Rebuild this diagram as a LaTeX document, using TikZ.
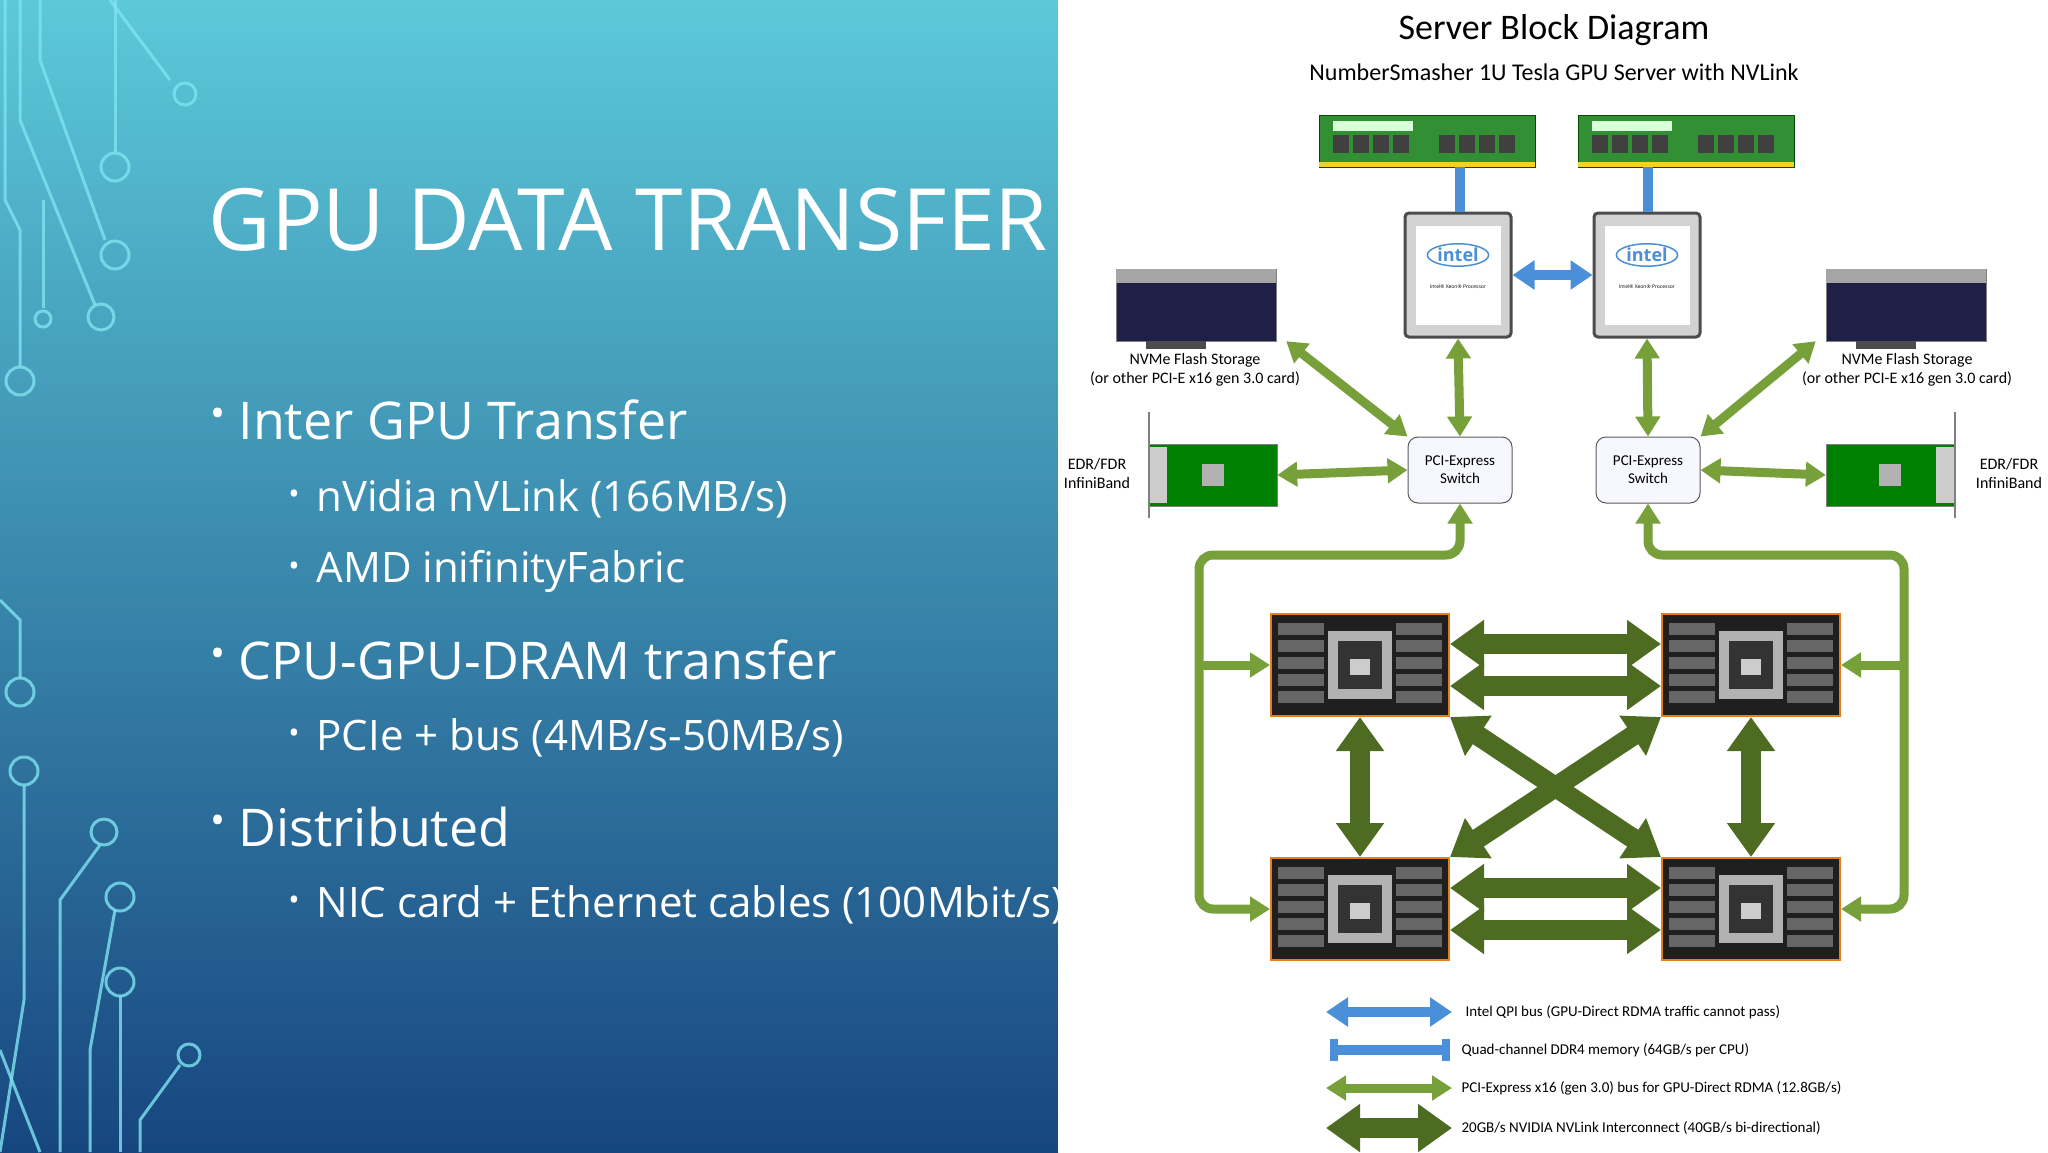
\documentclass[tikz,border=0pt]{standalone}
\usepackage{fontspec}
\setmainfont{Open Sans}
\newfontfamily\carl{Carlito}
\usetikzlibrary{arrows.meta,shapes.geometric}
\definecolor{lg}{HTML}{77A03A}
\definecolor{dg}{HTML}{4E6B22}
\definecolor{qb}{HTML}{4A8FD8}
\definecolor{topc}{HTML}{5CC9D9}
\definecolor{botc}{HTML}{17467F}
\definecolor{circc}{HTML}{7FE3F0}
\tikzset{
 pcie/.style={lg,line width=9pt,{Triangle[width=24pt,length=20pt]}-{Triangle[width=24pt,length=20pt]}},
 pcieone/.style={lg,line width=9pt,-{Triangle[width=24pt,length=20pt]}},
 nvl/.style={dg,line width=20pt,{Triangle[width=46pt,length=34pt]}-{Triangle[width=46pt,length=34pt]}},
 qpi/.style={qb,line width=10pt,{Triangle[width=28pt,length=22pt]}-{Triangle[width=28pt,length=22pt]}},
 mem/.style={qb,line width=10pt},
 sw/.style={draw=gray!70!black,fill=blue!3,rounded corners=10pt,minimum width=104pt,minimum height=66pt,align=center,font=\carl\fontsize{15}{18}\selectfont,line width=1pt},
 lab/.style={font=\carl\fontsize{16}{19}\selectfont,align=center},
 leg/.style={font=\carl\fontsize{15}{18}\selectfont,anchor=west},
 ram/.style={fill=green!45!black!80,minimum width=216pt,minimum height=52pt,draw=green!30!black},
 cpu/.style={fill=gray!35,draw=black!70,line width=3pt,minimum width=106pt,minimum height=124pt,rounded corners=4pt},
 gpu/.style={fill=black!88,draw=orange!60!brown,line width=2pt,minimum width=178pt,minimum height=102pt},
 card/.style={fill=gray!60!blue!40!black,draw=gray,minimum width=160pt,minimum height=72pt},
 ib/.style={fill=green!50!black,draw=gray,minimum width=128pt,minimum height=62pt},
 bul/.style={anchor=west,text=white},
 circuit/.style={draw=circc,line width=3pt,opacity=0.8}
}
\begin{document}
\begin{tikzpicture}[x=1pt,y=-1pt]
\useasboundingbox (0,0) rectangle (2048,1152);
% left panel
\shade[top color=topc,bottom color=botc] (0,0) rectangle (1058,1152);
% circuit decorations
\begin{scope}[circuit]
\draw (110,0) -- (170,80); \draw (185,94) circle (11);
\draw (115,0) -- (115,152); \draw (115,167) circle (14);
\draw (40,0) -- (40,60) -- (105,240); \draw (115,255) circle (14);
\draw (20,0) -- (20,120) -- (95,305); \draw (101,317) circle (13);
\draw (5,0) -- (5,200) -- (20,230) -- (20,366); \draw (20,381) circle (14);
\draw (43,200) -- (43,308); \draw (43,319) circle (8);
\draw (0,600) -- (20,620) -- (20,678); \draw (20,692) circle (14);
\draw (0,1152) -- (24,1000) -- (24,786); \draw (24,771) circle (14);
\draw (60,1152) -- (60,900) -- (100,845); \draw (104,832) circle (13);
\draw (90,1152) -- (90,1050) -- (115,910); \draw (120,897) circle (14);
\draw (120,1152) -- (120,996); \draw (120,982) circle (14);
\draw (140,1152) -- (140,1120) -- (180,1065); \draw (189,1055) circle (11);
\draw (0,1050) -- (40,1152);
\end{scope}
\node[anchor=base west,text=white,font=\fontsize{86}{90}\selectfont] (title) at (205,250) {GPU DATA TRANSFER};
\node[text=white,font=\fontsize{40}{40}\selectfont] (b1) at (218,418) {•};
\node[bul,font=\fontsize{52}{56}\selectfont] (t1) at (235,420) {Inter GPU Transfer};
\node[text=white,font=\fontsize{30}{30}\selectfont] (b2) at (294,497) {•};
\node[bul,font=\fontsize{42}{46}\selectfont] (t2) at (313,499) {nVidia nVLink (166MB/s)};
\node[text=white,font=\fontsize{30}{30}\selectfont] (b3) at (294,569) {•};
\node[bul,font=\fontsize{42}{46}\selectfont] (t3) at (313,571) {AMD inifinityFabric};
\node[text=white,font=\fontsize{40}{40}\selectfont] (b4) at (218,658) {•};
\node[bul,font=\fontsize{52}{56}\selectfont] (t4) at (235,660) {CPU-GPU-DRAM transfer};
\node[text=white,font=\fontsize{30}{30}\selectfont] (b5) at (294,736) {•};
\node[bul,font=\fontsize{42}{46}\selectfont] (t5) at (313,738) {PCIe + bus (4MB/s-50MB/s)};
\node[text=white,font=\fontsize{40}{40}\selectfont] (b6) at (218,825) {•};
\node[bul,font=\fontsize{52}{56}\selectfont] (t6) at (235,827) {Distributed};
\node[text=white,font=\fontsize{30}{30}\selectfont] (b7) at (294,903) {•};
\begin{scope}
\clip (0,0) rectangle (1058,1152);
\node[bul,font=\fontsize{42}{46}\selectfont] (t7) at (313,905) {NIC card + Ethernet cables (100Mbit/s)};
\end{scope}
% right panel
\fill[white] (1058,0) rectangle (2048,1152);
\node[font=\carl\fontsize{36}{40}\selectfont] (h1) at (1554,30) {Server Block Diagram};
\node[font=\carl\fontsize{24}{28}\selectfont] (h2) at (1554,72) {NumberSmasher 1U Tesla GPU Server with NVLink};
% RAM
\node[ram] (ram1) at (1427,141) {};
\node[ram] (ram2) at (1686,141) {};
\foreach \r in {ram1,ram2}{
 \fill[white!85!green] ([shift={(14,6)}]\r.north west) rectangle ++(80,10);
 \foreach \i in {0,...,3}{\fill[black!75] ([shift={(14+\i*20,20)}]\r.north west) rectangle ++(16,18);
  \fill[black!75] ([shift={(120+\i*20,20)}]\r.north west) rectangle ++(16,18);}
 \fill[yellow!70!brown] ([shift={(0,-5)}]\r.south west) rectangle (\r.south east);
}
% CPUs
\node[cpu] (cpu1) at (1458,275) {};
\node[cpu] (cpu2) at (1647,275) {};
\foreach \c in {cpu1,cpu2}{
 \fill[white] ([shift={(12,14)}]\c.north west) rectangle ([shift={(-12,-14)}]\c.south east);
 \node[qb,font=\bfseries\fontsize{18}{18}\selectfont,draw=qb,ellipse,inner sep=1pt,line width=1.5pt] at ([shift={(0,-20)}]\c.center) {intel};
 \node[font=\fontsize{5}{6}\selectfont] at ([shift={(0,12)}]\c.center) {Intel® Xeon® Processor};
}
% memory bars
\draw[mem] ([xshift=33]ram1.south) -- ([xshift=2]cpu1.north);
\draw[mem] ([xshift=-38]ram2.south) -- ([xshift=1]cpu2.north);
\draw[qpi] (cpu1.east) -- (cpu2.west);
% NVMe cards
\node[card] (nv1) at (1196,305) {};
\node[card] (nv2) at (1906,305) {};
\foreach \n in {nv1,nv2}{\fill[gray!70] (\n.north west) rectangle ([shift={(0,14)}]\n.north east);
 \fill[black!70] ([shift={(30,0)}]\n.south west) rectangle ++(60,8);}
\node[lab] (nvl1) at (1195,370) {NVMe Flash Storage\\(or other PCI-E x16 gen 3.0 card)};
\node[lab] (nvl2) at (1907,370) {NVMe Flash Storage\\(or other PCI-E x16 gen 3.0 card)};
% IB cards
\node[ib] (ib1) at (1213,475) {};
\node[ib] (ib2) at (1890,475) {};
\fill[gray!40] (ib1.west) ++(0,-28) rectangle ++(18,56);
\fill[gray!40] (ib2.east) ++(-18,-28) rectangle ++(18,56);
\fill[gray!60] ([shift={(-11,-11)}]ib1.center) rectangle ++(22,22);
\fill[gray!60] ([shift={(-11,-11)}]ib2.center) rectangle ++(22,22);
\draw[gray,line width=1.5pt] (1149,412) -- (1149,518);
\draw[gray,line width=1.5pt] (1955,412) -- (1955,518);
\node[lab] (ibl1) at (1097,473) {EDR/FDR\\InfiniBand};
\node[lab] (ibl2) at (2009,473) {EDR/FDR\\InfiniBand};
% switches
\node[sw] (sw1) at (1460,470) {PCI-Express\\Switch};
\node[sw] (sw2) at (1648,470) {PCI-Express\\Switch};
% GPUs
\node[gpu] (g1) at (1360,665) {};
\node[gpu] (g2) at (1751,665) {};
\node[gpu] (g3) at (1360,909) {};
\node[gpu] (g4) at (1751,909) {};
\foreach \g in {g1,g2,g3,g4}{
 \fill[gray!60] ([shift={(-32,-34)}]\g.center) rectangle ([shift={(32,34)}]\g.center);
 \fill[black!80] ([shift={(-22,-24)}]\g.center) rectangle ([shift={(22,24)}]\g.center);
 \fill[gray!40] ([shift={(-10,-6)}]\g.center) rectangle ([shift={(10,10)}]\g.center);
 \foreach \i in {0,...,4}{
  \fill[black!60] ([shift={(8,10+\i*17)}]\g.north west) rectangle ++(46,12);
  \fill[black!60] ([shift={(-54,10+\i*17)}]\g.north east) rectangle ++(46,12);}
}
% PCIe connections
\draw[pcie] (cpu1.south) -- (sw1.north);
\draw[pcie] (cpu2.south) -- (sw2.north);
\draw[pcie] ([shift={(10,0)}]nv1.south east) -- (sw1.north west);
\draw[pcie] ([shift={(-10,0)}]nv2.south west) -- (sw2.north east);
\draw[pcie] (ib1.east) -- (sw1.west);
\draw[pcie] (ib2.west) -- (sw2.east);
\coordinate (L1) at (1199,555); \coordinate (R1) at (1904,555);
\draw[lg,line width=9pt,{Triangle[width=24pt,length=20pt]}-{Triangle[width=24pt,length=20pt]},line join=round,rounded corners=14pt] (sw1.south) -- (sw1.south |- L1) -- (L1) -- (L1 |- g3) -- (g3.west);
\draw[pcieone] (L1 |- g1) -- (g1.west);
\draw[lg,line width=9pt,{Triangle[width=24pt,length=20pt]}-{Triangle[width=24pt,length=20pt]},line join=round,rounded corners=14pt] (sw2.south) -- (sw2.south |- R1) -- (R1) -- (R1 |- g4) -- (g4.east);
\draw[pcieone] (R1 |- g2) -- (g2.east);
% NVLink
\draw[nvl] ([shift={(0,-21)}]g1.east) -- ([shift={(0,-21)}]g2.west);
\draw[nvl] ([shift={(0,21)}]g1.east) -- ([shift={(0,21)}]g2.west);
\draw[nvl] ([shift={(0,-21)}]g3.east) -- ([shift={(0,-21)}]g4.west);
\draw[nvl] ([shift={(0,21)}]g3.east) -- ([shift={(0,21)}]g4.west);
\draw[nvl] (g1.south) -- (g3.north);
\draw[nvl] (g2.south) -- (g4.north);
\draw[nvl] (g1.south east) -- (g4.north west);
\draw[nvl] (g2.south west) -- (g3.north east);
% legend
\coordinate (a1) at (1326,1012); \coordinate (a2) at (1452,1012);
\coordinate (m1) at (1330,1050); \coordinate (m2) at (1450,1050);
\coordinate (p1) at (1326,1088); \coordinate (p2) at (1452,1088);
\coordinate (d1) at (1326,1128); \coordinate (d2) at (1452,1128);
\draw[qpi] (a1) -- (a2);
\draw[mem] (m1) -- (m2);
\fill[qb] ([shift={(0,-11)}]m1) rectangle ([shift={(8,11)}]m1);
\fill[qb] ([shift={(-8,-11)}]m2) rectangle ([shift={(0,11)}]m2);
\draw[pcie] (p1) -- (p2);
\draw[nvl] (d1) -- (d2);
\node[leg] (l1) at (1462,1012) {Intel QPI bus (GPU-Direct RDMA traffic cannot pass)};
\node[leg] (l2) at (1458,1050) {Quad-channel DDR4 memory (64GB/s per CPU)};
\node[leg] (l3) at (1458,1088) {PCI-Express x16 (gen 3.0) bus for GPU-Direct RDMA (12.8GB/s)};
\node[leg] (l4) at (1458,1128) {20GB/s NVIDIA NVLink Interconnect (40GB/s bi-directional)};
\end{tikzpicture}
\end{document}
